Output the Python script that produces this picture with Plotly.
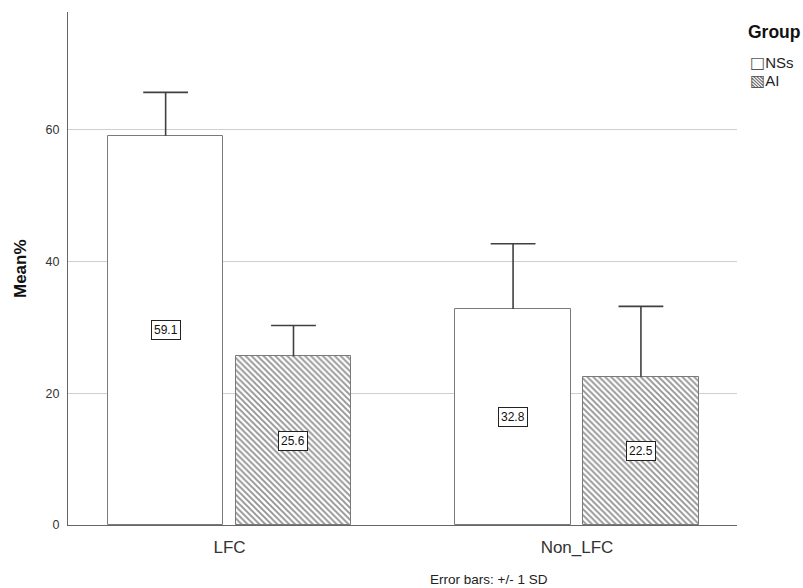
import plotly.graph_objects as go

# ---- data ----
categories = ["LFC", "Non_LFC"]
groups = ["NSs", "AI"]
mean_nss = [59.1, 32.8]
mean_ai = [25.6, 22.5]
sd_nss = [6.6, 9.9]
sd_ai = [4.7, 10.7]
y_ticks = [0, 20, 40, 60]
footnote = "Error bars: +/- 1 SD"
y_title = "Mean%"
legend_title = "Group"

x_pos = list(range(len(categories)))
bar_w = 0.332
off_nss = -0.350
off_ai = 0.018
err_color = "#404040"

fig = go.Figure()
series = [
    (groups[0], mean_nss, sd_nss, off_nss, None),
    (groups[1], mean_ai, sd_ai, off_ai,
     dict(shape="\\", fgcolor="#262626", bgcolor="white", size=4.2, solidity=0.45)),
]
for name, means, sds, off, pattern in series:
    marker = dict(color="white", line=dict(color="#7a7a7a", width=1))
    if pattern:
        marker["pattern"] = pattern
    fig.add_trace(go.Bar(
        name=name, x=x_pos, y=means, width=bar_w, offset=off, marker=marker,
        error_y=dict(type="data", symmetric=False, array=sds, arrayminus=[0] * len(sds),
                     color=err_color, thickness=1.6, width=0),
        showlegend=False, hoverinfo="y",
    ))
    # error-bar caps (upper only)
    fig.add_trace(go.Scatter(
        x=[xi + off + bar_w / 2 for xi in x_pos],
        y=[m + s for m, s in zip(means, sds)],
        mode="markers",
        marker=dict(symbol="line-ew", size=32, line=dict(color=err_color, width=1.6)),
        showlegend=False, hoverinfo="skip",
    ))

annotations = []
# value labels in the middle of each bar
for _, means, _, off, _ in series:
    for xi, v in zip(x_pos, means):
        annotations.append(dict(
            x=xi + off + bar_w / 2, y=v / 2, xref="x", yref="y",
            text=f"{v:.1f}", showarrow=False,
            font=dict(family="Liberation Sans, Arial", size=12, color="#111"),
            bgcolor="white", bordercolor="#222", borderwidth=1, borderpad=2,
        ))

# y-axis title
annotations.append(dict(
    x=-0.071, y=0.5, xref="paper", yref="paper", text=f"<b>{y_title}</b>",
    textangle=-90, showarrow=False, xanchor="center", yanchor="middle",
    font=dict(family="Liberation Sans, Arial", size=17, color="#111"),
))
# footnote
annotations.append(dict(
    x=0.629, y=-0.107, xref="paper", yref="paper", text=footnote,
    showarrow=False, xanchor="center", yanchor="middle",
    font=dict(family="Liberation Sans, Arial", size=13.5, color="#222"),
))
# legend (title + entries)
annotations.append(dict(
    x=1.013, y=0.961, xref="paper", yref="paper", text=f"<b>{legend_title}</b>",
    showarrow=False, xanchor="left", yanchor="middle",
    font=dict(family="Liberation Sans, Arial", size=17.5, color="#111"),
))
legend_glyphs = ["\u25a1", "\u25a7"]
for i, (g, glyph) in enumerate(zip(groups, legend_glyphs)):
    annotations.append(dict(
        x=1.016, y=0.901 - i * 0.035, xref="paper", yref="paper",
        text=f"<span style='font-family:DejaVu Sans;font-size:16px;color:#555'>{glyph}</span>{g}",
        showarrow=False, xanchor="left", yanchor="middle",
        font=dict(family="Liberation Sans, Arial", size=15, color="#222"),
    ))

fig.update_layout(
    width=803, height=588,
    margin=dict(l=68, r=66, t=12, b=63),
    paper_bgcolor="white", plot_bgcolor="white",
    bargap=0, barmode="overlay",
    annotations=annotations,
    font=dict(family="Liberation Sans, Arial"),
)
fig.update_xaxes(
    range=[-0.465, 1.4605], tickvals=x_pos, ticktext=categories,
    showgrid=False, zeroline=False, showline=True, linecolor="#666", linewidth=1,
    ticks="", ticklabelstandoff=7,
    tickfont=dict(family="Liberation Sans, Arial", size=17, color="#333"),
)
fig.update_yaxes(
    range=[0, 77.9], tickvals=y_ticks, showgrid=True, gridcolor="#cfcfcf", gridwidth=1.2,
    zeroline=False, showline=True, linecolor="#666", linewidth=1,
    ticks="", ticklabelstandoff=5,
    tickfont=dict(family="Liberation Sans, Arial", size=12.5, color="#333"),
)

fig.write_html("out.html", config={"displayModeBar": False},
               post_script="document.body.style.margin='0';document.body.style.overflow='hidden';")
